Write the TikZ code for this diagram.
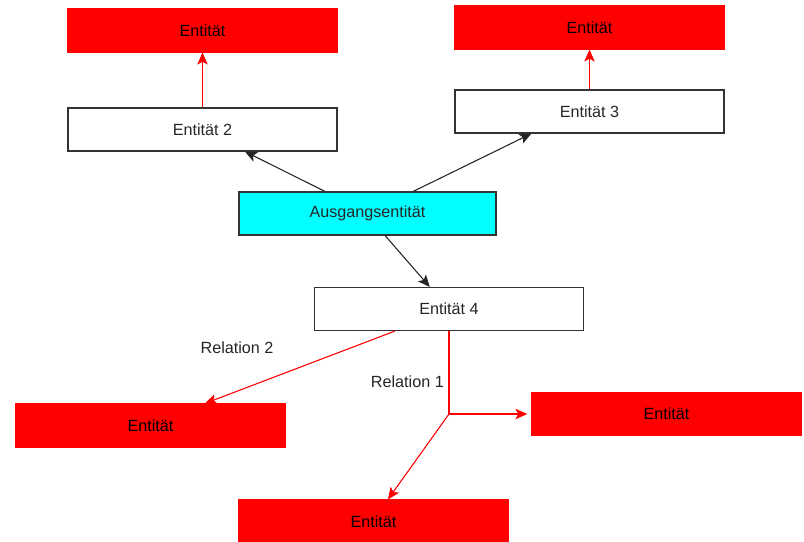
\documentclass[tikz,border=0pt]{standalone}
\usepackage{fontspec}
\setmainfont{Liberation Sans}
\usetikzlibrary{arrows.meta}
\definecolor{tuerkis}{RGB}{0,255,255}
\definecolor{hellrot}{RGB}{255,0,0}

\begin{document}
\begin{tikzpicture}[x=0.025cm, y=-0.025cm]
\tikzset{entbox/.style={draw=black!80, line width=0.9pt, minimum width=6.72cm, minimum height=1.07cm, font=\fontsize{11.5}{14}\selectfont, text=black!85},
rotbox/.style={entbox, draw=hellrot, fill=hellrot, text=black},
startbox/.style={entbox, fill=tuerkis, minimum width=6.42cm},
pfeil/.style={-{Stealth[length=0.3cm, width=0.26cm, inset=0.07cm]}, line width=0.75pt, draw=black!85, fill=black!85},
rotpfeil/.style={pfeil, draw=hellrot, fill=hellrot},
rellabel/.style={font=\fontsize{11.5}{14}\selectfont, text=black!85}}
\useasboundingbox (0, 0) rectangle (804, 541);
\node[rotbox] (R1) at (202.5, 30.5) {Entität};
\node[entbox] (E2) at (202.5, 129.5) {Entität 2};
\node[rotbox] (R3) at (589.5, 27.5) {Entität};
\node[entbox] (E3) at (589.5, 111.5) {Entität 3};
\node[startbox] (S) at (367.5, 213.5) {Ausgangsentität};
\node[entbox] (E4) at (449, 309) {Entität 4};
\node[rotbox] (RL) at (150.5, 425.5) {Entität};
\node[rotbox] (RR) at (666.5, 414) {Entität};
\node[rotbox] (RB) at (373.5, 521.5) {Entität};
\node[rellabel] (L2) at (237, 348) {Relation 2};
\coordinate (K) at (E4.south |- RR.west);
\draw[pfeil] ([xshift=-1.06cm]S.north) -- ([xshift=1.06cm]E2.south);
\draw[pfeil] ([xshift=1.14cm]S.north) -- ([xshift=-1.45cm]E3.south);
\draw[pfeil] ([xshift=0.44cm]S.south) -- ([xshift=-0.48cm]E4.north);
\draw[rotpfeil] (E2.north) -- (R1.south);
\draw[rotpfeil] (E3.north) -- (R3.south);
\draw[rotpfeil] ([xshift=-1.35cm]E4.south) -- ([xshift=1.36cm]RL.north);
\draw[draw=hellrot, line width=0.75pt] (E4.south) -- node[rellabel, left, pos=0.61] (L1) {Relation 1} (K);
\draw[rotpfeil] (K) -- ([xshift=-0.1cm]RR.west);
\draw[rotpfeil] (K) -- ([xshift=0.36cm]RB.north);
\end{tikzpicture}
\end{document}
